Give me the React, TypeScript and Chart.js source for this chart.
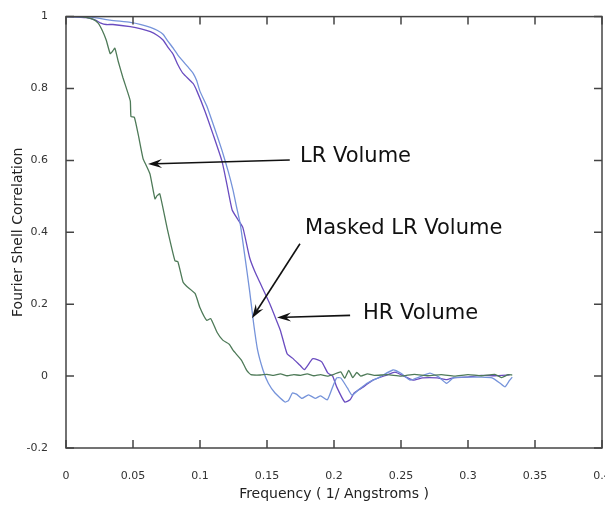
import React, { useEffect, useRef } from "react";
import { Chart, registerables } from "chart.js";

Chart.register(...registerables);

// ---- Data ----
const lrFreq = [0, 0.01, 0.015, 0.02, 0.024, 0.027, 0.03, 0.033, 0.035, 0.0365, 0.039, 0.0425, 0.046, 0.048, 0.0485, 0.051, 0.054, 0.0575, 0.06, 0.0627, 0.0664, 0.068, 0.07, 0.0754, 0.0813, 0.0835, 0.0873, 0.09, 0.0963, 0.1, 0.105, 0.108, 0.1127, 0.117, 0.122, 0.1246, 0.131, 0.135, 0.138, 0.145, 0.15, 0.155, 0.16, 0.165, 0.17, 0.175, 0.18, 0.185, 0.19, 0.195, 0.2, 0.205, 0.208, 0.211, 0.214, 0.217, 0.22, 0.225, 0.23, 0.24, 0.25, 0.26, 0.27, 0.28, 0.29, 0.3, 0.31, 0.32, 0.325, 0.33, 0.333];
const lrFsc = [1.0, 1.0, 0.998, 0.993, 0.982, 0.962, 0.935, 0.897, 0.905, 0.912, 0.875, 0.83, 0.79, 0.765, 0.722, 0.72, 0.67, 0.605, 0.585, 0.562, 0.493, 0.502, 0.507, 0.413, 0.321, 0.318, 0.262, 0.25, 0.23, 0.19, 0.155, 0.16, 0.122, 0.1, 0.088, 0.072, 0.044, 0.015, 0.004, 0.003, 0.005, 0.002, 0.006, 0.001, 0.004, 0.002, 0.006, 0.001, 0.004, 0.0, 0.005, 0.012, -0.006, 0.016, -0.004, 0.01, 0.0, 0.006, 0.002, 0.004, 0.0, 0.005, 0.001, 0.004, 0.0, 0.004, 0.001, 0.005, -0.004, 0.004, 0.003];

const maskedFreq = [0, 0.02, 0.033, 0.048, 0.056, 0.063, 0.068, 0.0724, 0.076, 0.08, 0.0835, 0.0873, 0.091, 0.0948, 0.0975, 0.1, 0.105, 0.111, 0.1164, 0.121, 0.1246, 0.1276, 0.13, 0.1336, 0.137, 0.14, 0.143, 0.147, 0.151, 0.156, 0.1634, 0.166, 0.169, 0.172, 0.176, 0.181, 0.186, 0.19, 0.195, 0.199, 0.202, 0.205, 0.21, 0.2134, 0.218, 0.2246, 0.234, 0.244, 0.25, 0.2567, 0.264, 0.2716, 0.278, 0.284, 0.289, 0.299, 0.31, 0.318, 0.324, 0.3276, 0.331, 0.333];
const maskedFsc = [1.0, 0.998, 0.99, 0.984, 0.978, 0.97, 0.962, 0.951, 0.932, 0.912, 0.893, 0.876, 0.86, 0.843, 0.822, 0.792, 0.752, 0.688, 0.628, 0.57, 0.518, 0.465, 0.424, 0.33, 0.238, 0.147, 0.072, 0.017, -0.02, -0.047, -0.072, -0.068, -0.047, -0.05, -0.062, -0.052, -0.062, -0.055, -0.066, -0.03, -0.005, -0.005, -0.033, -0.053, -0.039, -0.02, -0.003, 0.017, 0.008, -0.011, -0.002, 0.008, -0.002, -0.02, -0.005, -0.003, -0.003, -0.005, -0.02, -0.03, -0.012, -0.003];

const hrFreq = [0, 0.015, 0.022, 0.026, 0.03, 0.035, 0.048, 0.056, 0.063, 0.068, 0.0724, 0.076, 0.08, 0.0835, 0.0873, 0.0948, 0.0978, 0.1037, 0.1097, 0.1164, 0.12, 0.124, 0.128, 0.132, 0.137, 0.141, 0.145, 0.152, 0.156, 0.16, 0.165, 0.169, 0.1746, 0.178, 0.184, 0.188, 0.191, 0.1955, 0.199, 0.202, 0.208, 0.212, 0.215, 0.222, 0.229, 0.2395, 0.2455, 0.251, 0.259, 0.266, 0.277, 0.284, 0.29, 0.299, 0.31, 0.32, 0.331];
const hrFsc = [1.0, 0.997, 0.99, 0.982, 0.978, 0.978, 0.972, 0.966, 0.958, 0.948, 0.935, 0.915, 0.895, 0.866, 0.842, 0.814, 0.792, 0.737, 0.673, 0.598, 0.535, 0.462, 0.437, 0.413, 0.33, 0.29, 0.258, 0.202, 0.165, 0.127, 0.062, 0.05, 0.03, 0.018, 0.048, 0.045, 0.039, 0.008, 0.0, -0.03, -0.072, -0.066, -0.047, -0.03, -0.011, 0.003, 0.011, 0.002, -0.011, -0.005, -0.005, -0.01, -0.004, -0.003, 0.002, 0.001, 0.003];

const xTickValues = [0, 0.05, 0.1, 0.15, 0.2, 0.25, 0.3, 0.35, 0.4];
const xTickLabels = ["0", "0.05", "0.1", "0.15", "0.2", "0.25", "0.3", "0.35", "0.4"];
const yTickValues = [-0.2, 0, 0.2, 0.4, 0.6, 0.8, 1];
const yTickLabels = ["-0.2", "0", "0.2", "0.4", "0.6", "0.8", "1"];

// Annotations (in data coordinates)
const noteLabels = ["LR Volume", "Masked LR Volume", "HR Volume"];
const noteTextFreq = [0.1746, 0.1784, 0.2216];
const noteTextFsc = [0.612, 0.41, 0.175];
const arrowTailFreq = [0.167, 0.1746, 0.212];
const arrowTailFsc = [0.601, 0.368, 0.169];
const arrowTipFreq = [0.0612, 0.1388, 0.1575];
const arrowTipFsc = [0.59, 0.161, 0.163];

const FONT = "'DejaVu Sans', Verdana, sans-serif";

const framePlugin = {
  id: "frameAndNotes",
  afterDraw(chart: any) {
    const { ctx, chartArea: a, scales } = chart;
    const xs = scales.x;
    const ys = scales.y;
    ctx.save();
    ctx.strokeStyle = "#444";
    ctx.lineWidth = 1.5;
    ctx.strokeRect(a.left, a.top, a.right - a.left, a.bottom - a.top);
    const tl = 8;
    ctx.beginPath();
    xTickValues.forEach((v) => {
      const px = xs.getPixelForValue(v);
      ctx.moveTo(px, a.bottom);
      ctx.lineTo(px, a.bottom - tl);
      ctx.moveTo(px, a.top);
      ctx.lineTo(px, a.top + tl);
    });
    yTickValues.forEach((v) => {
      const py = ys.getPixelForValue(v);
      ctx.moveTo(a.left, py);
      ctx.lineTo(a.left + tl, py);
      ctx.moveTo(a.right, py);
      ctx.lineTo(a.right - tl, py);
    });
    ctx.stroke();

    // annotations
    ctx.fillStyle = "#111";
    ctx.strokeStyle = "#111";
    ctx.font = `21px ${FONT}`;
    ctx.textAlign = "left";
    ctx.textBaseline = "middle";
    noteLabels.forEach((t, i) => {
      ctx.fillText(t, xs.getPixelForValue(noteTextFreq[i]), ys.getPixelForValue(noteTextFsc[i]));
      const x0 = xs.getPixelForValue(arrowTailFreq[i]);
      const y0 = ys.getPixelForValue(arrowTailFsc[i]);
      const x1 = xs.getPixelForValue(arrowTipFreq[i]);
      const y1 = ys.getPixelForValue(arrowTipFsc[i]);
      const ang = Math.atan2(y1 - y0, x1 - x0);
      const len = 14;
      const hw = 4.5;
      const ca = Math.cos(ang);
      const sa = Math.sin(ang);
      ctx.lineWidth = 1.6;
      ctx.beginPath();
      ctx.moveTo(x0, y0);
      ctx.lineTo(x1 - ca * 8, y1 - sa * 8);
      ctx.stroke();
      ctx.beginPath();
      ctx.moveTo(x1, y1);
      ctx.lineTo(x1 - ca * len - sa * hw, y1 - sa * len + ca * hw);
      ctx.lineTo(x1 - ca * 9, y1 - sa * 9);
      ctx.lineTo(x1 - ca * len + sa * hw, y1 - sa * len - ca * hw);
      ctx.closePath();
      ctx.fill();
    });
    ctx.restore();
  },
};

function toPoints(xs: number[], ys: number[]) {
  return xs.map((x, i) => ({ x, y: ys[i] }));
}

export default function App() {
  const ref = useRef<HTMLCanvasElement | null>(null);
  useEffect(() => {
    if (!ref.current) return;
    const chart = new Chart(ref.current, {
      type: "line",
      data: {
        datasets: [
          { label: "LR Volume", data: toPoints(lrFreq, lrFsc), borderColor: "#4e7a58", borderWidth: 1.3 },
          { label: "Masked LR Volume", data: toPoints(maskedFreq, maskedFsc), borderColor: "#7593da", borderWidth: 1.3 },
          { label: "HR Volume", data: toPoints(hrFreq, hrFsc), borderColor: "#6a4cc0", borderWidth: 1.3 },
        ],
      },
      options: {
        animation: false,
        responsive: false,
        events: [],
        elements: { point: { radius: 0 }, line: { tension: 0.15, fill: false } },
        layout: { padding: { left: 0, top: 15, right: 28, bottom: 0 } },
        plugins: { legend: { display: false }, tooltip: { enabled: false } },
        scales: {
          x: {
            type: "linear",
            min: 0,
            max: 0.4,
            grid: { display: false },
            border: { display: false },
            afterBuildTicks: (s: any) => {
              s.ticks = xTickValues.map((v) => ({ value: v }));
            },
            afterFit: (s: any) => {
              s.height = 62;
            },
            ticks: {
              padding: 14,
              color: "#333",
              font: { family: FONT, size: 11 },
              maxRotation: 0,
              callback: (_v: any, i: number) => xTickLabels[i],
            },
            title: {
              display: true,
              text: "Frequency ( 1/ Angstroms )",
              color: "#222",
              font: { family: FONT, size: 14 },
              padding: { top: 2, bottom: 7 },
            },
          },
          y: {
            type: "linear",
            min: -0.2,
            max: 1,
            grid: { display: false },
            border: { display: false },
            afterBuildTicks: (s: any) => {
              s.ticks = yTickValues.map((v) => ({ value: v }));
            },
            afterFit: (s: any) => {
              s.width = 66;
            },
            ticks: {
              padding: 10,
              color: "#333",
              font: { family: FONT, size: 11 },
              callback: (_v: any, i: number) => yTickLabels[i],
            },
            title: {
              display: true,
              text: "Fourier Shell Correlation",
              color: "#222",
              font: { family: FONT, size: 14 },
              padding: { top: 10, bottom: 2 },
            },
          },
        },
      },
      plugins: [framePlugin],
    });
    return () => chart.destroy();
  }, []);
  return (
    <div style={{ position: "fixed", left: 0, top: 0, width: 605, height: 510, overflow: "hidden", background: "#fff" }}>
      <canvas ref={ref} width={630} height={510} style={{ display: "block" }} />
    </div>
  );
}
